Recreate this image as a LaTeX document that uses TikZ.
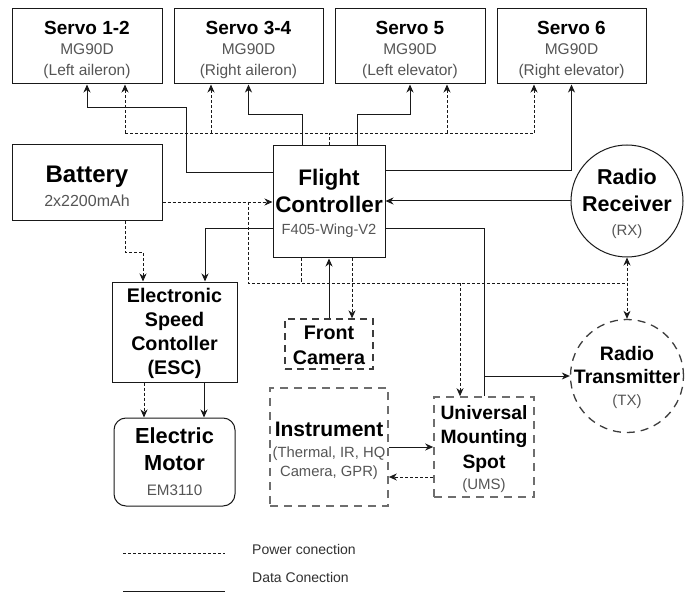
\documentclass[tikz,border=0pt]{standalone}
\usepackage{fontspec}
\setmainfont{Liberation Sans}
\usetikzlibrary{arrows.meta}

\definecolor{subgray}{RGB}{85,85,85}
\definecolor{linecol}{RGB}{25,25,25}
\definecolor{dashgray}{RGB}{110,110,110}

% title and subtitle fonts (size in pt)
\newcommand\ttl[1]{\fontsize{#1}{#1}\selectfont\bfseries}
\newcommand\subt[1]{\fontsize{#1}{#1}\selectfont\color{subgray}}
\newcommand\lsp[1]{\fontsize{15}{#1}\selectfont}

\begin{document}
\begin{tikzpicture}[x=1pt,y=-1pt,
  box/.style={draw=linecol, line width=1pt, inner sep=0pt},
  dbox/.style={box, draw=linecol!85, line width=1.3pt, dash pattern=on 7pt off 5pt},
  gbox/.style={box, draw=dashgray, line width=1.6pt, dash pattern=on 8pt off 6pt},
  txt/.style={inner sep=0pt, align=center, text=black},
  dt/.style={draw=linecol, line width=1pt},
  pw/.style={draw=linecol, line width=0.9pt, dash pattern=on 3pt off 2pt},
  arr/.style={-{Stealth[length=8pt,width=7pt,inset=2.5pt]}},
  biarr/.style={{Stealth[length=8pt,width=7pt,inset=2.5pt]}-{Stealth[length=8pt,width=7pt,inset=2.5pt]}},
]
\useasboundingbox (0,0) rectangle (695,593);

% ---- servos ----
\node[box, minimum width=150pt, minimum height=75pt] (s12) at (87,46.5) {};
\node[box, minimum width=149pt, minimum height=75pt] (s34) at (248.5,46.5) {};
\node[box, minimum width=150pt, minimum height=75pt] (s5) at (410,46.5) {};
\node[box, minimum width=149pt, minimum height=75pt] (s6) at (571.5,46.5) {};
\node[txt, font=\lsp{20.5}] (s12t) at ([yshift=-3pt]s12.center)
  {{\ttl{19}Servo 1-2}\\{\subt{15.5}MG90D}\\{\subt{15.5}(Left aileron)}};
\node[txt, font=\lsp{20.5}] (s34t) at ([yshift=-3pt]s34.center)
  {{\ttl{19}Servo 3-4}\\{\subt{15.5}MG90D}\\{\subt{15.5}(Right aileron)}};
\node[txt, font=\lsp{20.5}] (s5t) at ([yshift=-3pt]s5.center)
  {{\ttl{19}Servo 5}\\{\subt{15.5}MG90D}\\{\subt{15.5}(Left elevator)}};
\node[txt, font=\lsp{20.5}] (s6t) at ([yshift=-3pt]s6.center)
  {{\ttl{19}Servo 6}\\{\subt{15.5}MG90D}\\{\subt{15.5}(Right elevator)}};

% ---- main units ----
\node[box, minimum width=150pt, minimum height=76pt] (bat) at (87,183) {};
\node[txt, font=\lsp{24}] (batt) at ([yshift=-3pt]bat.center)
  {{\ttl{24}Battery}\\{\subt{16}2x2200mAh}};

\node[box, minimum width=112pt, minimum height=112pt] (fc) at (329,202) {};
\node[txt, font=\lsp{22}] (fct) at ([yshift=-1.5pt]fc.center)
  {{\ttl{22.5}Flight}\\[5.5pt]{\ttl{22.5}Controller}\\{\subt{14.7}F405-Wing-V2}};

\node[box, circle, minimum size=112pt] (rx) at (627,201) {};
\node[txt, font=\lsp{24}] (rxt) at ([yshift=-3pt]rx.center)
  {{\ttl{21.5}Radio}\\[3pt]{\ttl{21.5}Receiver}\\{\subt{15}(RX)}};

\node[box, circle, draw=linecol!85, line width=1.3pt, dash pattern=on 8pt off 6pt,
  minimum size=113pt] (tx) at (627,376) {};
\node[txt, font=\lsp{22}] (txt) at ([yshift=-1.5pt]tx.center)
  {{\ttl{19.5}Radio}\\[1pt]{\ttl{19.5}Transmitter}\\{\subt{15}(TX)}};

\node[box, minimum width=125pt, minimum height=100pt] (esc) at (174.5,332) {};
\node[txt, font=\lsp{24}] (esct) at ([yshift=-1.5pt]esc.center)
  {{\ttl{19.7}Electronic}\\{\ttl{19.7}Speed}\\{\ttl{19.7}Contoller}\\{\ttl{19.7}(ESC)}};

\node[box, rounded corners=12pt, minimum width=121pt, minimum height=88pt] (mot) at (174.5,462) {};
\node[txt, font=\lsp{26.5}] (mott) at ([yshift=0.5pt]mot.center)
  {{\ttl{21.8}Electric}\\{\ttl{21.8}Motor}\\[-1.5pt]{\subt{15.2}EM3110}};

\node[dbox, minimum width=88pt, minimum height=50pt] (cam) at (329,344) {};
\node[txt, font=\lsp{25}] (camt) at ([yshift=-1pt]cam.center)
  {{\ttl{19.7}Front}\\{\ttl{19.7}Camera}};

\node[gbox, minimum width=118pt, minimum height=118pt] (ins) at (329,447) {};
\node[txt, font=\lsp{19}] (inst) at ([yshift=-3.5pt]ins.center)
  {{\ttl{21}Instrument}\\[2pt]{\subt{14.8}(Thermal, IR, HQ}\\{\subt{14.8}Camera, GPR)}};

\node[gbox, minimum width=100pt, minimum height=100pt] (ums) at (484,447) {};
\node[txt, font=\lsp{21}] (umst) at ([yshift=-2pt]ums.center)
  {{\ttl{19.3}Universal}\\[3pt]{\ttl{19.3}Mounting}\\[4pt]{\ttl{19.3}Spot}\\{\subt{15}(UMS)}};

% ---- data links (solid) ----
\draw[dt,arr] ([yshift=29pt]fc.west) -| (186,108) -| (s12.south);
\draw[dt,arr] ([xshift=-27pt]fc.north) -- ++(0,-31) -| (s34.south);
\draw[dt,arr] ([xshift=28pt]fc.north) -- ++(0,-31) -| (s5.south);
\draw[dt,arr] ([yshift=31pt]fc.east) -| (s6.south);
\draw[dt,arr] ([yshift=-27pt]fc.west) -| ([xshift=30.5pt]esc.north);
\draw[dt,arr] (cam.north) -- (fc.south);
\draw[dt,arr] (rx.west) -- (fc.east |- rx.west);
\draw[dt] ([yshift=-27pt]fc.east) -| (ums.north);
\draw[dt,arr] (ums.north |- tx.west) -- (tx.west);
\draw[dt,arr] (ins.east) -- (ums.west);
\draw[dt,arr] ([xshift=29.5pt]esc.south) -- ([xshift=29.5pt]mot.north);

% ---- power links (dashed) ----
\coordinate (pbus) at (329,133);
\coordinate (p12) at ([xshift=38pt]s12.south);
\coordinate (p34) at ([xshift=-37.5pt]s34.south);
\coordinate (p5) at ([xshift=37pt]s5.south);
\coordinate (p6) at ([xshift=-37.5pt]s6.south);
\draw[pw] (fc.north) -- (pbus);
\draw[pw] (p12 |- pbus) -- (p6 |- pbus);
\draw[pw,arr] (p12 |- pbus) -- (p12);
\draw[pw,arr] (p34 |- pbus) -- (p34);
\draw[pw,arr] (p5 |- pbus) -- (p5);
\draw[pw,arr] (p6 |- pbus) -- (p6);

\draw[pw,arr] (bat.east |- fc.west) -- (fc.west);
\coordinate (bj) at (248,202);
\coordinate (lbus) at (248,283);
\coordinate (pfc) at ([xshift=-28pt]fc.south);
\coordinate (pums) at ([xshift=-24pt]ums.north);
\draw[pw] (bj) -- (lbus) -- (rx.south |- lbus);
\draw[pw] (pfc) -- (pfc |- lbus);
\draw[pw,arr] (pums |- lbus) -- (pums);
\draw[pw,biarr] (rx.south) -- (tx.north);

\draw[pw,arr] ([xshift=38pt]bat.south) -- ++(0,31) -| ([xshift=-31.5pt]esc.north);
\draw[pw,arr] ([xshift=23pt]fc.south) -- ([xshift=23pt]cam.north);
\draw[pw,arr] ([yshift=-30pt]ums.west) -- ([yshift=-30pt]ins.east);
\draw[pw,arr] ([xshift=-30.5pt]esc.south) -- ([xshift=-30.5pt]mot.north);

% ---- legend ----
\coordinate (lga) at (123,553);
\coordinate (lgb) at (225,553);
\coordinate (lgc) at (123,591);
\coordinate (lgd) at (225,591);
\draw[pw] (lga) -- (lgb);
\draw[dt] (lgc) -- (lgd);
\node[anchor=west, inner sep=0pt, text=linecol!90, font=\fontsize{14}{14}\selectfont] (lgp) at (252,549) {Power conection};
\node[anchor=west, inner sep=0pt, text=linecol!90, font=\fontsize{14}{14}\selectfont] (lgdt) at (252,577) {Data Conection};
\end{tikzpicture}
\end{document}
